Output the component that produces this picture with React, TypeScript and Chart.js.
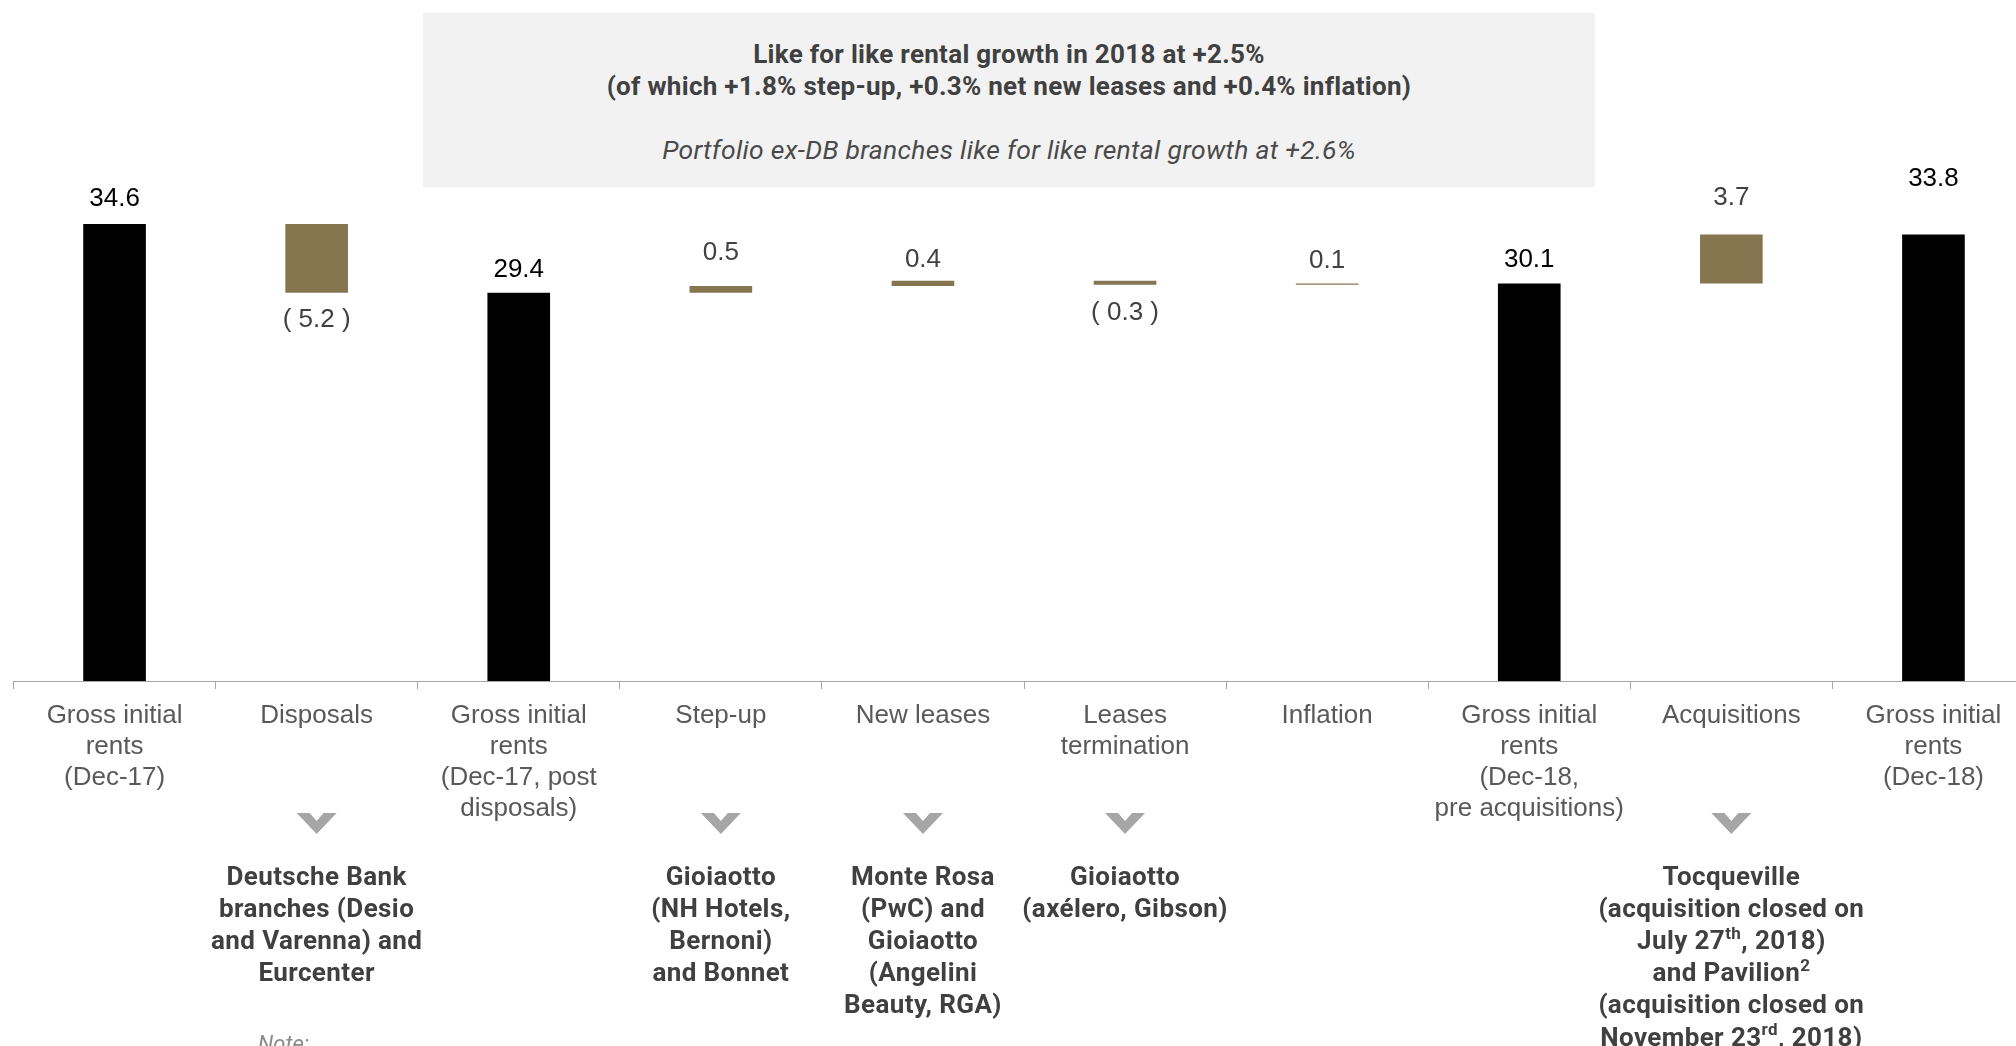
import React, { useEffect, useRef } from "react";
import { Chart, registerables } from "chart.js";

Chart.register(...registerables);

// ---------- data ----------
const categoryLabels: string[][] = [
  ["Gross initial", "rents", "(Dec-17)"],
  ["Disposals"],
  ["Gross initial", "rents", "(Dec-17, post", "disposals)"],
  ["Step-up"],
  ["New leases"],
  ["Leases", "termination"],
  ["Inflation"],
  ["Gross initial", "rents", "(Dec-18,", "pre acquisitions)"],
  ["Acquisitions"],
  ["Gross initial", "rents", "(Dec-18)"],
];
const values: number[] = [34.6, -5.2, 29.4, 0.5, 0.4, -0.3, 0.1, 30.1, 3.7, 33.8];
const isTotal: boolean[] = [true, false, true, false, false, false, false, true, false, true];

// descriptions under some categories (^...^ marks superscript)
const descriptions: (string[] | null)[] = [
  null,
  ["Deutsche Bank", "branches (Desio", "and Varenna) and", "Eurcenter"],
  null,
  ["Gioiaotto", "(NH Hotels,", "Bernoni)", "and Bonnet"],
  ["Monte Rosa", "(PwC) and", "Gioiaotto", "(Angelini", "Beauty, RGA)"],
  ["Gioiaotto", "(axélero, Gibson)"],
  null,
  null,
  [
    "Tocqueville",
    "(acquisition closed on",
    "July 27^th^, 2018)",
    "and Pavilion^2^",
    "(acquisition closed on",
    "November 23^rd^, 2018)",
  ],
  null,
];

const boxTitle = "Like for like rental growth in 2018 at +2.5%";
const boxSubtitle = "(of which +1.8% step-up, +0.3% net new leases and +0.4% inflation)";
const boxNote = "Portfolio ex-DB branches like for like rental growth at +2.6%";

// ---------- styles ----------
const TOTAL_COLOR = "#000000";
const DELTA_COLOR = "#857650";
const labelGap = [25.5, 27.5, 22.5, 33.5, 21, 28.5, 22.5, 23.5, 37, 55.5];

// floating ranges built from values
function buildRanges(): [number, number][] {
  const out: [number, number][] = [];
  let running = 0;
  values.forEach((v, i) => {
    if (isTotal[i]) {
      out.push([0, v]);
      running = v;
    } else {
      const next = Math.round((running + v) * 10) / 10;
      out.push([Math.min(running, next), Math.max(running, next)]);
      running = next;
    }
  });
  return out;
}

const fmt = (v: number) => (v < 0 ? `( ${Math.abs(v).toFixed(1)} )` : v.toFixed(1));

const valueLabelPlugin = {
  id: "valueLabels",
  afterDatasetsDraw(chart: any) {
    const ctx = chart.ctx as CanvasRenderingContext2D;
    const meta = chart.getDatasetMeta(0);
    ctx.save();
    ctx.font = "26px 'Liberation Sans', Arial, sans-serif";
    ctx.textAlign = "center";
    ctx.textBaseline = "middle";
    meta.data.forEach((el: any, i: number) => {
      const top = Math.min(el.y, el.base);
      const bottom = Math.max(el.y, el.base);
      const v = values[i];
      ctx.fillStyle = isTotal[i] ? "#000000" : "#404040";
      const y = v < 0 ? bottom + labelGap[i] : top - labelGap[i];
      ctx.fillText(fmt(v), el.x, y);
    });
    ctx.restore();
  },
};

const descriptionPlugin = {
  id: "descriptions",
  afterDraw(chart: any) {
    const ctx = chart.ctx as CanvasRenderingContext2D;
    const xs = chart.scales.x;
    const base = chart.chartArea.bottom;
    ctx.save();
    (ctx as any).letterSpacing = "0.4px";
    descriptions.forEach((lines, i) => {
      if (!lines) return;
      const cx = xs.getPixelForValue(i);
      // chevron
      const cy = base + 132;
      ctx.fillStyle = "#a6a6a7";
      ctx.beginPath();
      ctx.moveTo(cx - 20, cy);
      ctx.lineTo(cx - 7, cy);
      ctx.lineTo(cx, cy + 8);
      ctx.lineTo(cx + 7, cy);
      ctx.lineTo(cx + 20, cy);
      ctx.lineTo(cx, cy + 21);
      ctx.closePath();
      ctx.fill();
      // text
      ctx.fillStyle = "#404040";
      ctx.textBaseline = "middle";
      ctx.textAlign = "left";
      lines.forEach((line, k) => {
        const y = base + 197 + k * 32.2;
        const parts = line.split("^");
        const normalFont = "bold 26px Roboto, sans-serif";
        const supFont = "bold 17px Roboto, sans-serif";
        let total = 0;
        parts.forEach((p, j) => {
          ctx.font = j % 2 === 1 ? supFont : normalFont;
          total += ctx.measureText(p).width;
        });
        let x = cx - total / 2;
        parts.forEach((p, j) => {
          const sup = j % 2 === 1;
          ctx.font = sup ? supFont : normalFont;
          ctx.fillText(p, x, sup ? y - 8 : y);
          x += ctx.measureText(p).width;
        });
      });
    });
    ctx.restore();
  },
};

export default function App() {
  const ref = useRef<HTMLCanvasElement>(null);

  useEffect(() => {
    const ranges = buildRanges();
    const chart = new Chart(ref.current as HTMLCanvasElement, {
      type: "bar",
      data: {
        labels: categoryLabels,
        datasets: [
          {
            data: ranges as any,
            backgroundColor: isTotal.map((t) => (t ? TOTAL_COLOR : DELTA_COLOR)),
            borderWidth: 0,
            barPercentage: 0.31,
            categoryPercentage: 1,
          },
        ],
      },
      options: {
        responsive: false,
        maintainAspectRatio: false,
        animation: false,
        layout: { padding: { left: 13.5, right: 5.5, top: 20.5, bottom: 0 } },
        plugins: { legend: { display: false }, tooltip: { enabled: false } },
        scales: {
          x: {
            offset: true,
            grid: {
              offset: true,
              drawOnChartArea: false,
              drawTicks: true,
              tickLength: 8,
              color: "#a6a6a6",
              lineWidth: 1,
            },
            border: { display: true, color: "#a6a6a6", width: 1 },
            ticks: {
              color: "#595959",
              font: { family: "'Liberation Sans', Arial, sans-serif", size: 26, lineHeight: 31 / 26 },
              padding: 11.5,
              maxRotation: 0,
              minRotation: 0,
              autoSkip: false,
            },
            afterFit: (s: any) => {
              s.height = 365;
            },
          } as any,
          y: { display: false, min: 0, max: 50 },
        },
      },
      plugins: [valueLabelPlugin, descriptionPlugin],
    });
    return () => chart.destroy();
  }, []);

  return (
    <div
      style={{
        position: "absolute",
        left: 0,
        top: 0,
        width: 2016,
        height: 1046,
        overflow: "hidden",
        background: "#ffffff",
      }}
    >
      <canvas
        ref={ref}
        width={2040}
        height={1046}
        style={{ position: "absolute", left: 0, top: 0, width: 2040, height: 1046 }}
      />
      <div
        style={{
          position: "absolute",
          left: 423,
          top: 13,
          width: 1172,
          height: 174,
          background: "#f2f2f2",
          fontFamily: "Roboto, sans-serif",
          color: "#404040",
          textAlign: "center",
        }}
      >
        <div
          style={{
            position: "absolute",
            left: 0,
            right: 0,
            top: 26,
            lineHeight: "30px",
            fontSize: 26,
            fontWeight: 700,
            letterSpacing: "0.3px",
          }}
        >
          {boxTitle}
        </div>
        <div
          style={{
            position: "absolute",
            left: 0,
            right: 0,
            top: 58,
            lineHeight: "30px",
            fontSize: 26,
            fontWeight: 700,
            letterSpacing: "0.3px",
          }}
        >
          {boxSubtitle}
        </div>
        <div
          style={{
            position: "absolute",
            left: 0,
            right: 0,
            top: 122,
            lineHeight: "30px",
            fontSize: 26.5,
            fontStyle: "italic",
            letterSpacing: "0.3px",
            color: "#4a4a4a",
          }}
        >
          {boxNote}
        </div>
      </div>
      <div
        style={{
          position: "absolute",
          left: 258,
          top: 1031,
          fontFamily: "Roboto, sans-serif",
          fontStyle: "italic",
          fontSize: 22,
          color: "#8a8a8a",
        }}
      >
        Note:
      </div>
    </div>
  );
}
